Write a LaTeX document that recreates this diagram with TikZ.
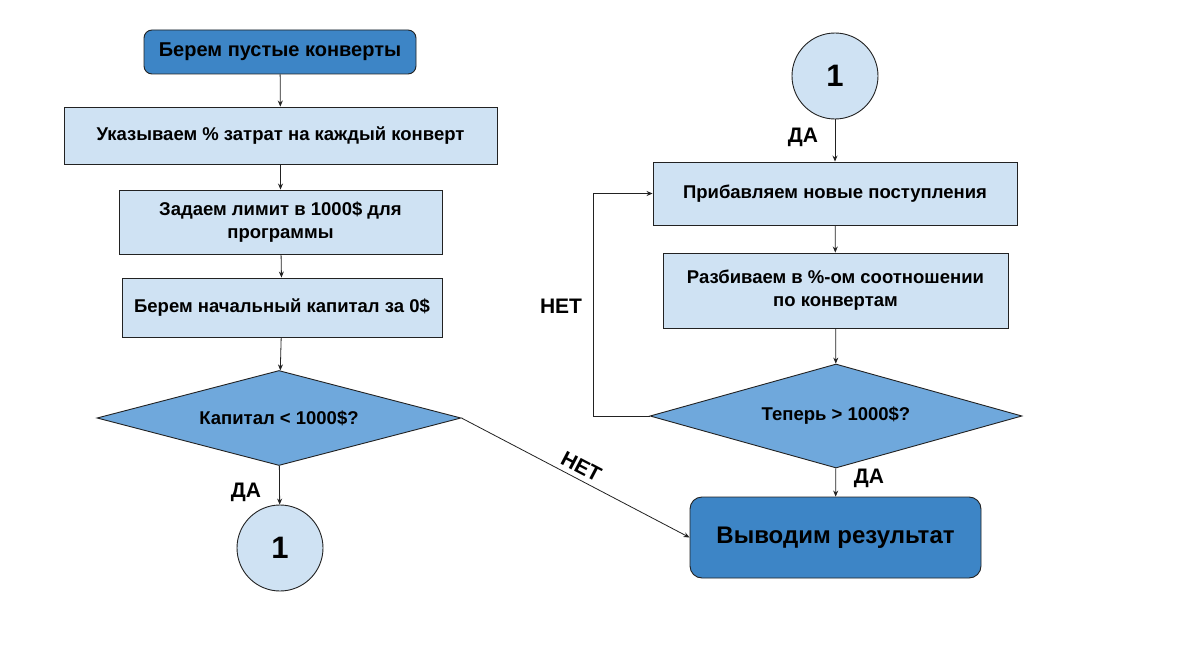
\documentclass[tikz,border=0pt]{standalone}
\usepackage{fontspec}
\setmainfont{Liberation Sans}
\usetikzlibrary{shapes.geometric,arrows.meta}
\definecolor{darkb}{HTML}{3D85C6}
\definecolor{lightb}{HTML}{CFE2F3}
\definecolor{midb}{HTML}{6FA8DC}
\definecolor{edge}{HTML}{222222}
\tikzset{
  base/.style={draw=edge,line width=0.9pt,align=center,font=\bfseries\fontsize{18.5}{23}\selectfont,inner sep=0pt},
  startbox/.style={base,fill=darkb,rounded corners=8pt,rectangle},
  procbox/.style={base,fill=lightb,rectangle},
  decbox/.style={base,fill=midb,diamond,font=\bfseries\fontsize{18.5}{22}\selectfont},
  conn/.style={base,fill=lightb,circle,font=\bfseries\fontsize{31}{33}\selectfont,minimum size=86pt},
  arr/.style={draw=edge,line width=0.8pt,-{Stealth[length=6pt,width=5pt]}},
  lbl/.style={font=\bfseries\fontsize{21}{24}\selectfont,inner sep=0pt}
}
\begin{document}
\begin{tikzpicture}[x=1pt,y=-1pt]
\fill[white] (0,0) rectangle (1187,661);
\useasboundingbox (0,0) rectangle (1187,661);
\node[startbox,minimum width=272pt,minimum height=44pt,font=\bfseries\fontsize{20}{24}\selectfont] (b1) at (280,52) {Берем пустые конверты};
\node[procbox,minimum width=433pt,minimum height=57pt] (b2) at (280.5,135.5) {Указываем \% затрат на каждый конверт};
\node[procbox,minimum width=323pt,minimum height=64pt] (b3) at (280.5,222) {Задаем лимит в 1000\$ для\\программы};
\node[procbox,minimum width=320pt,minimum height=59pt] (b4) at (282,307.5) {Берем начальный капитал за 0\$};
\node[decbox,shape aspect=3.83,minimum width=364pt,minimum height=95pt] (d1) at (279,418) {Капитал < 1000\$?};
\node[conn] (c1) at (280,548) {1};
\node[conn] (c2) at (835,76) {1};
\node[procbox,minimum width=364pt,minimum height=63pt] (b5) at (835,193.5) {Прибавляем новые поступления};
\node[procbox,minimum width=345pt,minimum height=75pt] (b6) at (835.5,290.5) {Разбиваем в \%-ом соотношении\\по конвертам};
\node[decbox,shape aspect=3.58,minimum width=372pt,minimum height=104pt] (d2) at (836,416) {Теперь > 1000\$?};
\node[startbox,rounded corners=12pt,minimum width=291pt,minimum height=81pt,font=\bfseries\fontsize{24}{28}\selectfont] (b7) at (835.5,537.5) {Выводим результат};

\draw[arr] (b1) -- (b2);
\draw[arr] (b2) -- (b3);
\draw[arr] (b3) -- (b4);
\draw[arr] (b4) -- (d1);
\draw[arr] (d1) -- (c1);
\draw[arr] (c2) -- (b5);
\draw[arr] (b5) -- (b6);
\draw[arr] (b6) -- (d2);
\draw[arr] (d2) -- (b7);
\draw[arr] (d2.west) -- ++(-56,0) |- (b5.west);
\draw[arr] (d1.east) -- node[lbl,sloped,above=5pt] {НЕТ} (b7.west);

\node[lbl] (l1) at (246,492) {ДА};
\node[lbl] (l2) at (803,137) {ДА};
\node[lbl] (l3) at (561,306) {НЕТ};
\node[lbl] (l4) at (869,478) {ДА};
\end{tikzpicture}
\end{document}
